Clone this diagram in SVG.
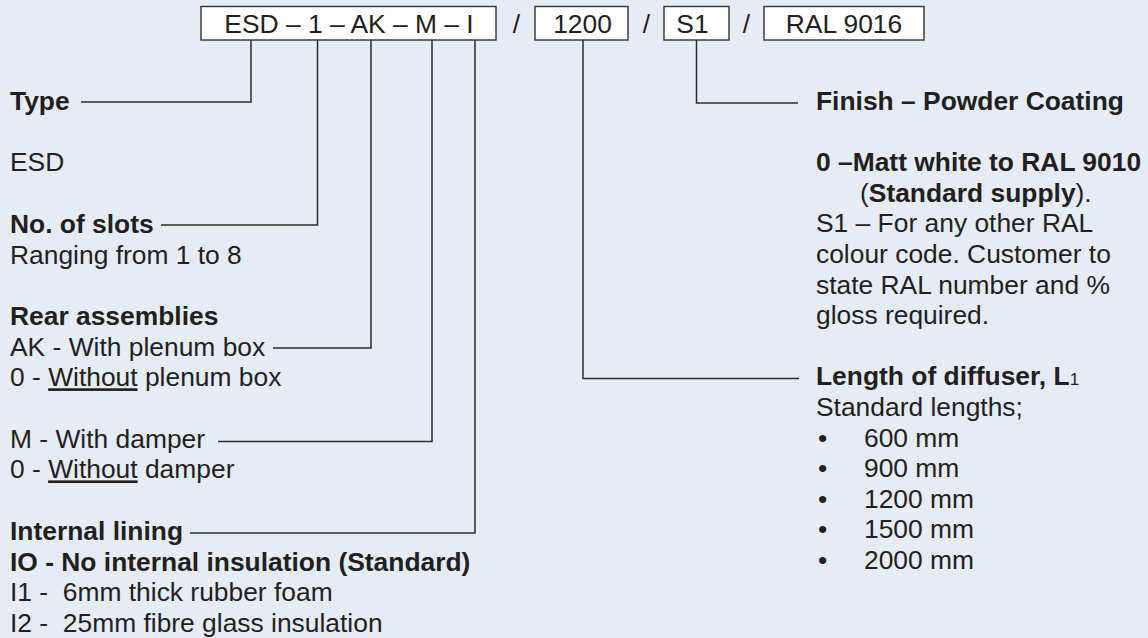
<svg xmlns="http://www.w3.org/2000/svg" width="1148" height="638" viewBox="0 0 1148 638">
  <style>
    text { font-family: "Liberation Sans", Arial, sans-serif; font-size: 26.4px; fill: #231f20; }
    .b { font-weight: bold; }
    .n { font-weight: normal; }
    .box { fill: #ffffff; stroke: #333333; stroke-width: 1.4; }
    .conn { fill: none; stroke: #2d2d2d; stroke-width: 1.5; }
    .mid { text-anchor: middle; }
    .u { text-decoration: underline; }
    .sub { font-size: 17px; font-weight: normal; }
  </style>
  <rect x="0" y="0" width="1148" height="638" fill="#e5ecf5"/>

  <g id="connectors">
    <path class="conn" d="M251,40 V102 H81"/>
    <path class="conn" d="M317.5,40 V225 H161"/>
    <path class="conn" d="M371,40 V348 H273"/>
    <path class="conn" d="M432,40 V441.5 H218"/>
    <path class="conn" d="M475,40 V533 H190"/>
    <path class="conn" d="M583,40 V378.5 H799"/>
    <path class="conn" d="M696.5,40 V103 H798"/>
  </g>

  <g id="node-code-main">
    <rect class="box" x="201" y="6.5" width="295" height="33.5"/>
    <text class="mid" x="349" y="33">ESD – 1 – AK – M – I</text>
  </g>
  <text class="mid" x="516.5" y="33">/</text>
  <g id="node-code-length">
    <rect class="box" x="535" y="6.5" width="93" height="33.5"/>
    <text class="mid" x="582.5" y="33">1200</text>
  </g>
  <text class="mid" x="646.5" y="33">/</text>
  <g id="node-code-finish">
    <rect class="box" x="664" y="6.5" width="65" height="33.5"/>
    <text class="mid" x="692.5" y="33">S1</text>
  </g>
  <text class="mid" x="746.5" y="33">/</text>
  <g id="node-code-ral">
    <rect class="box" x="764" y="6.5" width="160" height="33.5"/>
    <text class="mid" x="844" y="33">RAL 9016</text>
  </g>

  <g id="node-type">
    <text class="b" x="10" y="110">Type</text>
    <text x="10" y="171.4">ESD</text>
  </g>
  <g id="node-slots">
    <text class="b" x="10" y="232.8">No. of slots</text>
    <text x="10" y="263.5">Ranging from 1 to 8</text>
  </g>
  <g id="node-rear">
    <text class="b" x="10" y="324.9">Rear assemblies</text>
    <text x="10" y="355.6">AK - With plenum box</text>
    <text x="10" y="386.3">0 - <tspan class="u">Without</tspan> plenum box</text>
  </g>
  <g id="node-damper">
    <text x="10" y="447.7">M - With damper</text>
    <text x="10" y="478.4">0 - <tspan class="u">Without</tspan> damper</text>
  </g>
  <g id="node-lining">
    <text class="b" x="10" y="539.8">Internal lining</text>
    <text class="b" x="10" y="570.5">IO - No internal insulation (Standard)</text>
    <text x="10" y="601.2" xml:space="preserve">I1 -  6mm thick rubber foam</text>
    <text x="10" y="631.9" xml:space="preserve">I2 -  25mm fibre glass insulation</text>
  </g>

  <g id="node-finish">
    <text class="b" x="816" y="110">Finish – Powder Coating</text>
    <text class="b" x="816" y="171.2">0 –Matt white to RAL 9010</text>
    <text x="860" y="201.8">(<tspan class="b">Standard supply</tspan>).</text>
    <text x="816" y="232.4">S1 – For any other RAL</text>
    <text x="816" y="263">colour code. Customer to</text>
    <text x="816" y="293.6">state RAL number and %</text>
    <text x="816" y="324.2">gloss required.</text>
  </g>
  <g id="node-length">
    <text class="b" x="816" y="385.4">Length of diffuser, L<tspan class="sub">1</tspan></text>
    <text x="816" y="416">Standard lengths;</text>
    <text x="818" y="446.6">•</text><text x="864" y="446.6">600 mm</text>
    <text x="818" y="477.2">•</text><text x="864" y="477.2">900 mm</text>
    <text x="818" y="507.8">•</text><text x="864" y="507.8">1200 mm</text>
    <text x="818" y="538.4">•</text><text x="864" y="538.4">1500 mm</text>
    <text x="818" y="569">•</text><text x="864" y="569">2000 mm</text>
  </g>
</svg>
